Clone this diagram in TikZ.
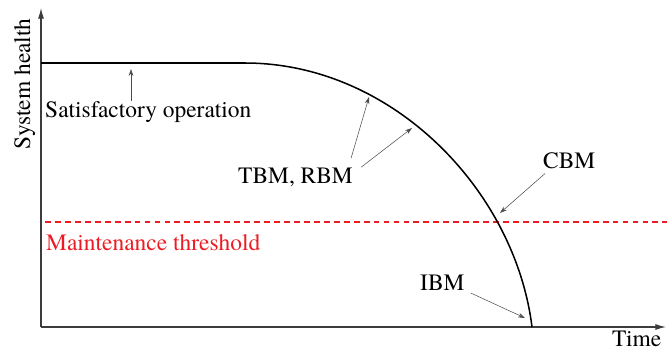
\documentclass[tikz,border=0pt]{standalone}
\usepackage{fontspec}
\setmainfont{texgyretermes-regular.otf}
\usetikzlibrary{arrows.meta}
\definecolor{threshred}{RGB}{237,28,36}
\definecolor{axisgray}{RGB}{60,60,60}
\tikzset{
  axisline/.style={draw=axisgray, line width=0.9pt, -{Latex[length=9pt,width=5pt]}},
  healthline/.style={line width=1.3pt},
  note/.style={draw=black!70, line width=0.45pt, -{Stealth[length=6pt,width=4pt]}},
  txt/.style={font=\fontsize{20}{24}\selectfont, inner sep=0pt},
  threshold/.style={draw=threshred, line width=1.2pt, dash pattern=on 5pt off 3.5pt},
}
\begin{document}
\begin{tikzpicture}[x=0.03cm, y=-0.03cm]
  \useasboundingbox (0,0) rectangle (667,351);
  % Define nodes
  \coordinate (o)     at (41,327);
  \coordinate (ytop)  at (41,8);
  \coordinate (xend)  at (666,327);
  \coordinate (flat)  at (245,63);
  \coordinate (fail)  at (532,327);
  \coordinate (thl)   at (45,222);
  \coordinate (thr)   at (667,222);
  \coordinate (p1)    at (131,69);
  \coordinate (p2)    at (369,97);
  \coordinate (p3)    at (412,128);
  \coordinate (p4)    at (500,213);
  \coordinate (p5)    at (525,318);
  \node[txt, anchor=base west]                 (sat)    at (45,117)  {Satisfactory operation};
  \node[txt, anchor=base west]                 (tbm)    at (238,183) {TBM, RBM};
  \node[txt, anchor=base west]                 (cbm)    at (543,168) {CBM};
  \node[txt, anchor=base west]                 (ibm)    at (420,290) {IBM};
  \node[txt, anchor=base west, text=threshred] (thresh) at (46,250)  {Maintenance threshold};
  \node[txt, anchor=base west]                 (time)   at (612,346) {Time};
  \node[txt, anchor=base, rotate=90]           (health) at (30,84)   {System health};

  % Connect the nodes
  \draw[axisline] (o) -- (ytop);
  \draw[axisline] (o) -- (xend);
  \draw[threshold] (thl) -- (thr);
  \draw[healthline] (o |- flat) -- (flat) .. controls (392,63) and (515,190) .. (fail);
  \draw[note] (sat.north -| p1)                  -- (p1);
  \draw[note] ([shift={(-2,-9)}]tbm.north east)  -- (p2);
  \draw[note] ([shift={(8,0)}]tbm.north east)    -- (p3);
  \draw[note] ([shift={(2,5)}]cbm.south west)    -- (p4);
  \draw[note] ([shift={(6,3)}]ibm.base east)     -- (p5);
\end{tikzpicture}
\end{document}
